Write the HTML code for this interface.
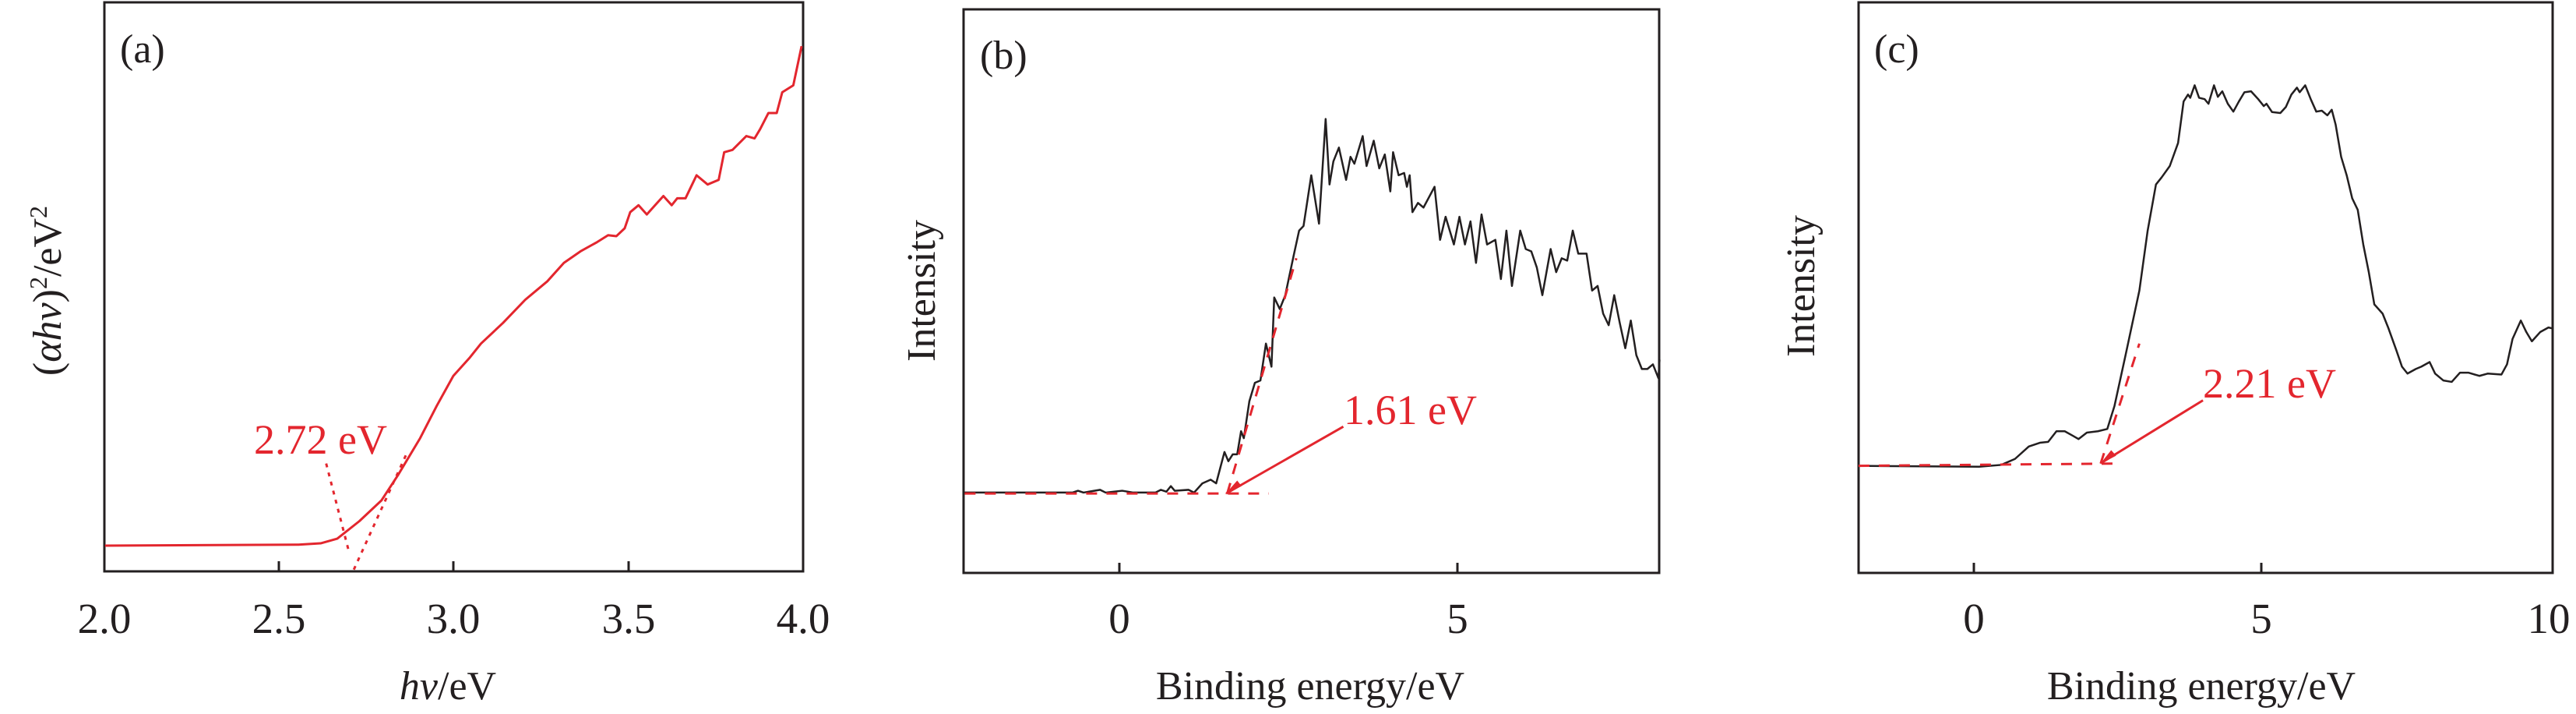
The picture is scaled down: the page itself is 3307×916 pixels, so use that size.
<!DOCTYPE html>
<html><head><meta charset="utf-8"><style>html,body{margin:0;padding:0;background:#fff}svg{display:block}text{font-family:"Liberation Serif",serif}</style></head><body>
<svg width="3307" height="916" viewBox="0 0 3307 916" xmlns="http://www.w3.org/2000/svg">
<g fill="none" stroke="#231f20" stroke-width="3">
<rect x="134" y="3" width="897" height="730"/>
<rect x="1237" y="12" width="893" height="723"/>
<rect x="2386" y="3" width="891" height="732"/>
<path d="M358 733v-13M582 733v-13M807 733v-13M1437 735v-13M1871 735v-13M2534 735v-13M2903 735v-13"/>
</g>
<g font-size="55" fill="#231f20" text-anchor="middle">
<text x="134" y="812">2.0</text><text x="358" y="812">2.5</text><text x="582" y="812">3.0</text><text x="807" y="812">3.5</text><text x="1031" y="812">4.0</text>
<text x="1437" y="812">0</text><text x="1871" y="812">5</text>
<text x="2534" y="812">0</text><text x="2903" y="812">5</text><text x="3272" y="812">10</text>
</g>
<g font-size="52" fill="#231f20" text-anchor="middle">
<text x="575" y="897"><tspan font-style="italic">hv</tspan>/eV</text>
<text x="1682" y="897">Binding energy/eV</text>
<text x="2826" y="897">Binding energy/eV</text>
<text transform="translate(78,373) rotate(-90)">(<tspan font-style="italic">αhv</tspan>)<tspan font-size="32" dy="-18">2</tspan><tspan dy="18">/eV</tspan><tspan font-size="32" dy="-18">2</tspan></text>
<text transform="translate(1200,373) rotate(-90)">Intensity</text>
<text transform="translate(2329,367) rotate(-90)">Intensity</text>
</g>
<g font-size="52" fill="#231f20"><text x="154" y="80">(a)</text><text x="1258" y="88">(b)</text><text x="2406" y="80">(c)</text></g>
<g font-size="54" fill="#e3262e"><text x="326" y="582">2.72 eV</text><text x="1725" y="544">1.61 eV</text><text x="2828" y="510">2.21 eV</text></g>

<g transform="translate(0,0) scale(0.7097,0.5917)" fill="none" stroke-linejoin="round">
<polyline vector-effect="non-scaling-stroke" stroke="#e3262e" stroke-width="3" points="190,1183 540,1181 580,1178 610,1168 650,1130 690,1085 720,1030 760,950 790,880 820,815 850,775 870,745 910,700 950,650 990,610 1020,570 1050,545 1080,525 1100,510 1115,512 1130,495 1140,460 1155,445 1170,465 1185,445 1200,425 1215,445 1225,430 1240,430 1260,380 1280,400 1300,390 1310,330 1325,325 1350,295 1365,300 1375,280 1390,245 1405,245 1415,200 1435,185 1450,100"/>
<path vector-effect="non-scaling-stroke" stroke="#e3262e" stroke-width="3" stroke-dasharray="5,7" d="M590 1005L632 1200M640 1235L735 985"/>
</g>

<g transform="translate(1100,0) scale(0.7097,0.5917)" fill="none" stroke-linejoin="round">
<polyline vector-effect="non-scaling-stroke" stroke="#231f20" stroke-width="2.5" points="193,1068 390,1068 400,1064 410,1068 440,1062 450,1068 480,1064 500,1068 540,1068 550,1062 560,1066 568,1054 575,1064 600,1062 610,1068 625,1048 640,1040 650,1048 665,980 672,1000 680,985 688,985 695,935 700,950 710,870 720,830 730,825 740,745 750,795 755,645 765,670 775,640 790,555 800,500 808,490 822,380 836,485 848,258 855,400 862,350 872,320 885,390 893,340 900,355 915,295 922,360 935,305 945,365 955,335 965,415 970,330 980,380 990,375 995,405 1000,380 1005,460 1015,440 1025,450 1045,405 1055,520 1065,470 1080,530 1090,470 1100,530 1110,480 1120,570 1130,465 1140,530 1155,520 1165,605 1175,500 1185,620 1200,500 1210,540 1220,545 1230,580 1240,640 1255,540 1265,590 1275,560 1285,565 1295,500 1305,550 1320,550 1330,630 1340,620 1350,680 1360,705 1370,640 1380,700 1390,755 1400,695 1410,770 1420,800 1430,800 1440,790 1450,820 1452,780"/>
<path vector-effect="non-scaling-stroke" stroke="#e3262e" stroke-width="3" stroke-dasharray="14,12" d="M195 1070H745M670 1070L795 560"/>
<path vector-effect="non-scaling-stroke" stroke="#e3262e" stroke-width="3" d="M880 925L668 1070"/>
<path stroke="none" fill="#e3262e" d="M666 1072l22-30l8 12z"/>
</g>

<g transform="translate(2200,0) scale(0.7097,0.5917)" fill="none" stroke-linejoin="round">
<polyline vector-effect="non-scaling-stroke" stroke="#231f20" stroke-width="2.5" points="262,1010 480,1012 520,1008 545,995 570,968 590,960 605,958 620,935 635,935 650,945 660,952 675,938 695,935 712,930 725,880 745,770 770,630 785,500 800,400 810,385 825,360 840,310 850,220 858,205 862,212 870,185 878,212 888,215 895,225 905,185 912,210 920,198 930,225 940,242 950,220 960,200 972,198 985,215 995,230 1000,225 1010,243 1025,245 1035,232 1045,205 1055,190 1060,200 1070,185 1080,215 1090,242 1100,240 1110,250 1118,238 1125,270 1135,340 1145,380 1155,430 1165,455 1175,530 1185,590 1195,660 1210,680 1220,710 1235,760 1245,795 1255,810 1270,800 1280,795 1295,785 1305,810 1320,825 1335,828 1350,808 1365,808 1385,815 1400,810 1425,812 1435,790 1445,735 1460,695 1470,720 1480,740 1495,720 1510,710 1517,712"/>
<path vector-effect="non-scaling-stroke" stroke="#e3262e" stroke-width="3" stroke-dasharray="14,12" d="M262 1010L735 1005M700 1005L770 745"/>
<path vector-effect="non-scaling-stroke" stroke="#e3262e" stroke-width="3" d="M885 868L702 1003"/>
<path stroke="none" fill="#e3262e" d="M699 1006l20-30l9 12z"/>
</g>
</svg>
</body></html>
